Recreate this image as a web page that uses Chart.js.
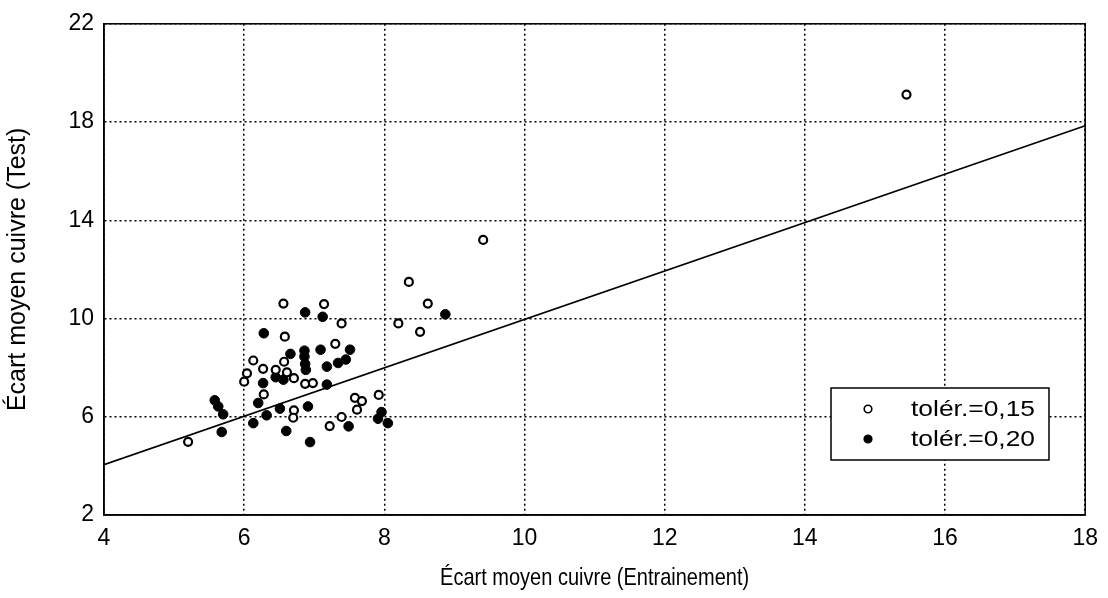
<!DOCTYPE html>
<html>
<head>
<meta charset="utf-8">
<script src="https://cdn.jsdelivr.net/npm/chart.js@4"></script>
<style>
  html, body { margin: 0; padding: 0; background: #fff; }
  #wrap { width: 1108px; height: 598px; position: relative; }
</style>
</head>
<body>
<div id="wrap"><canvas id="myChart"></canvas></div>
<script>
// tolér.=0,15 (open circles)
var openX = [5.20, 6.00, 6.04, 6.13, 6.27, 6.28, 6.45, 6.57, 6.58, 6.56, 6.61, 6.71, 6.71, 6.70, 6.87, 6.98,
             7.14, 7.22, 7.30, 7.39, 7.39, 7.58, 7.61, 7.68, 7.92, 8.20, 8.35, 8.51, 8.62, 9.41, 15.45];
var openY = [4.98, 7.43, 7.77, 8.29, 7.95, 6.91, 7.91, 8.24, 9.26, 10.61, 7.81, 7.57, 6.26, 5.96, 7.34, 7.37,
             10.59, 5.62, 8.97, 9.80, 5.99, 6.77, 6.29, 6.64, 6.89, 9.80, 11.49, 9.46, 10.61, 13.20, 19.12];

// tolér.=0,20 (filled circles)
var fullX = [5.58, 5.63, 5.70, 5.68, 6.13, 6.20, 6.27, 6.28, 6.32, 6.45, 6.51, 6.56, 6.60, 6.66, 6.86, 6.86, 6.87,
             6.88, 6.87, 6.91, 6.94, 7.09, 7.12, 7.18, 7.18, 7.34, 7.45, 7.51, 7.49, 7.91, 7.96, 8.05, 8.87];
var fullY = [6.67, 6.42, 6.10, 5.38, 5.74, 6.56, 7.37, 9.40, 6.06, 7.61, 6.33, 7.51, 5.42, 8.56, 8.69, 8.45, 8.15,
             7.91, 10.25, 6.42, 4.97, 8.73, 10.07, 8.04, 7.31, 8.19, 8.33, 8.73, 5.61, 5.92, 6.19, 5.74, 10.17];

// fitted line end points
var lineX = [4, 18];
var lineY = [4.05, 17.85];

var xTicks = [4, 6, 8, 10, 12, 14, 16, 18];
var yTicks = [2, 6, 10, 14, 18, 22];

var seriesNames = ['tolér.=0,15', 'tolér.=0,20'];
var xTitle = 'Écart moyen cuivre (Entrainement)';
var yTitle = 'Écart moyen cuivre (Test)';

function toPoints(xs, ys){
    var pts = [];
    for(var i = 0; i < xs.length; i++){
        pts.push({x: xs[i], y: ys[i]});
    }
    return pts;
}

var FONT = '"Liberation Sans", Arial, sans-serif';

var legendBox = {
    id: 'legendBox',
    afterDraw: function(chart){
        var ctx = chart.ctx;
        var left = 831, top = 388, w = 218, h = 72;
        ctx.save();
        ctx.setLineDash([]);
        ctx.fillStyle = '#fff';
        ctx.fillRect(left, top, w, h);
        ctx.strokeStyle = '#000';
        ctx.lineWidth = 1.5;
        ctx.strokeRect(left, top, w, h);
        ctx.textBaseline = 'middle';
        ctx.textAlign = 'left';
        for(var i = 0; i < 2; i++){
            var ds = chart.data.datasets[i];
            var cy = top + 21 + i * 30;
            ctx.beginPath();
            ctx.arc(868, cy, 3.8, 0, Math.PI * 2);
            ctx.fillStyle = ds.backgroundColor;
            ctx.fill();
            ctx.lineWidth = 1.6;
            ctx.strokeStyle = '#000';
            ctx.stroke();
            // text is a bit wider than tall in the original scan
            ctx.save();
            ctx.translate(911, cy + 1);
            ctx.scale(1.2, 1);
            ctx.font = '22px ' + FONT;
            ctx.fillStyle = '#000';
            ctx.fillText(ds.label, 0, 0);
            ctx.restore();
        }
        ctx.restore();
    }
};

// x title drawn by hand: the scan is stretched vertically
var xTitlePlugin = {
    id: 'xTitle',
    afterDraw: function(chart){
        var a = chart.chartArea, ctx = chart.ctx;
        ctx.save();
        ctx.translate((a.left + a.right) / 2, 578);
        ctx.scale(1, 1.22);
        ctx.font = '20px ' + FONT;
        ctx.fillStyle = '#000';
        ctx.textAlign = 'center';
        ctx.textBaseline = 'middle';
        ctx.fillText(xTitle, 0, 0);
        ctx.restore();
    }
};

const config = {
    type: 'scatter',
    data: {
        datasets: [
            {
                label: seriesNames[0],
                data: toPoints(openX, openY),
                backgroundColor: '#fff',
                borderColor: '#000',
                borderWidth: 2.2,
                pointRadius: 4
            },
            {
                label: seriesNames[1],
                data: toPoints(fullX, fullY),
                backgroundColor: '#000',
                borderColor: '#000',
                borderWidth: 1,
                pointRadius: 4.8
            },
            {
                label: 'fit',
                data: toPoints(lineX, lineY),
                showLine: true,
                borderColor: '#000',
                borderWidth: 1.6,
                pointRadius: 0,
                fill: false
            }
        ]
    },
    options: {
        responsive: false,
        animation: false,
        layout: { padding: { top: 18, right: 22, left: 0, bottom: 0 } },
        plugins: {
            legend: { display: false },
            tooltip: { enabled: false }
        },
        scales: {
            x: {
                type: 'linear',
                min: 4,
                max: 18,
                afterBuildTicks: function(axis){
                    axis.ticks = xTicks.map(function(v){ return {value: v}; });
                },
                afterFit: function(axis){ axis.height = 83; },
                ticks: {
                    color: '#000',
                    font: { family: FONT, size: 23 },
                    padding: 10,
                    maxRotation: 0
                },
                grid: {
                    color: '#000',
                    lineWidth: 1.5,
                    drawTicks: false
                },
                border: { color: '#000', width: 1.5, dash: [2, 3] }
            },
            y: {
                type: 'linear',
                min: 2,
                max: 22,
                afterBuildTicks: function(axis){
                    axis.ticks = yTicks.map(function(v){ return {value: v}; });
                },
                afterFit: function(axis){ axis.width = 104; },
                ticks: {
                    color: '#000',
                    font: { family: FONT, size: 23 },
                    padding: 10
                },
                grid: {
                    color: '#000',
                    lineWidth: 1.5,
                    drawTicks: false
                },
                border: { color: '#000', width: 1.5, dash: [2, 3] },
                title: {
                    display: true,
                    text: yTitle,
                    color: '#000',
                    font: { family: FONT, size: 25 },
                    padding: { top: 3, bottom: 0 }
                }
            }
        }
    },
    plugins: [
        {
            id: 'frame',
            beforeDatasetsDraw: function(chart){
                var a = chart.chartArea, ctx = chart.ctx;
                ctx.save();
                ctx.strokeStyle = '#000';
                ctx.lineWidth = 1.5;
                ctx.setLineDash([]);
                ctx.strokeRect(a.left, a.top, a.right - a.left, a.bottom - a.top);
                ctx.restore();
            }
        },
        legendBox,
        xTitlePlugin
    ]
};

var cv = document.getElementById('myChart');
cv.width = 1108;
cv.height = 598;
const myChart = new Chart(cv, config);
</script>
</body>
</html>
